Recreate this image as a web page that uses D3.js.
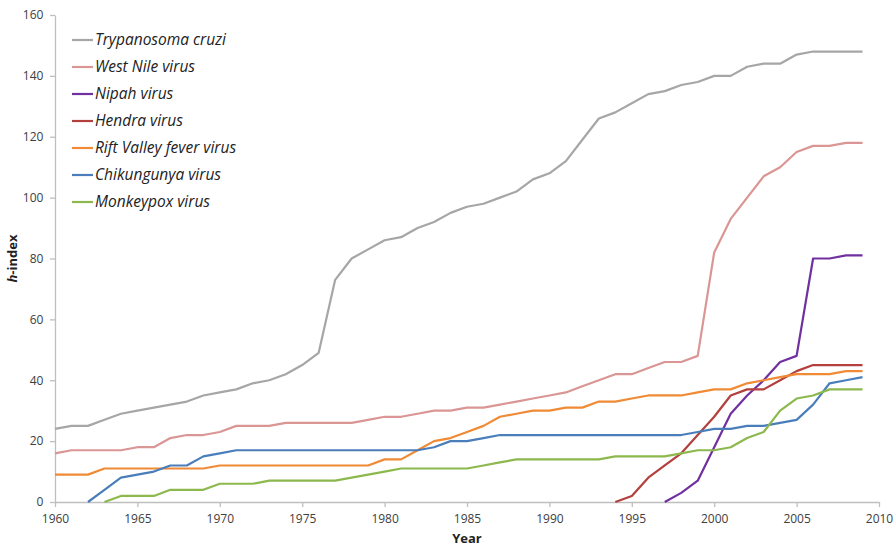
<!DOCTYPE html>
<html><head><meta charset="utf-8">
<script src="https://cdn.jsdelivr.net/npm/d3@7"></script>
<style>body{margin:0;background:#fff}svg{display:block}</style>
</head><body><svg id="c" width="894" height="550"></svg>
<script>
const years = d3.range(1960, 2010);
const seriesNames = ["Trypanosoma cruzi","West Nile virus","Nipah virus","Hendra virus","Rift Valley fever virus","Chikungunya virus","Monkeypox virus"];
const seriesColors = ["#a6a6a6","#d99694","#7030a0","#b3403c","#f08a35","#4a7ebb","#8cb84e"];
const trypanosoma = [24,25,25,27,29,30,31,32,33,35,36,37,39,40,42,45,49,73,80,83,86,87,90,92,95,97,98,100,102,106,108,112,119,126,128,131,134,135,137,138,140,140,143,144,144,147,148,148,148,148];
const westNile = [16,17,17,17,17,18,18,21,22,22,23,25,25,25,26,26,26,26,26,27,28,28,29,30,30,31,31,32,33,34,35,36,38,40,42,42,44,46,46,48,82,93,100,107,110,115,117,117,118,118];
const nipahStart = 1997;
const nipah = [0,3,7,18,29,35,40,46,48,80,80,81,81];
const hendraStart = 1994;
const hendra = [0,2,8,12,16,22,28,35,37,37,40,43,45,45,45,45];
const riftValley = [9,9,9,11,11,11,11,11,11,11,12,12,12,12,12,12,12,12,12,12,14,14,17,20,21,23,25,28,29,30,30,31,31,33,33,34,35,35,35,36,37,37,39,40,41,42,42,42,43,43];
const chikStart = 1962;
const chikungunya = [0,4,8,9,10,12,12,15,16,17,17,17,17,17,17,17,17,17,17,17,17,18,20,20,21,22,22,22,22,22,22,22,22,22,22,22,22,23,24,24,25,25,26,27,32,39,40,41];
const monkeyStart = 1963;
const monkeypox = [0,2,2,2,4,4,4,6,6,6,7,7,7,7,7,8,9,10,11,11,11,11,11,12,13,14,14,14,14,14,14,15,15,15,15,16,17,17,18,21,23,30,34,35,37,37,37];
const xTicks = d3.range(1960, 2011, 5);
const yTicks = d3.range(0, 161, 20);

const toPts = (arr, start) => arr.map((v,i)=>({x:start+i, y:v}));
const data = [
  toPts(trypanosoma,1960), toPts(westNile,1960), toPts(nipah,nipahStart),
  toPts(hendra,hendraStart), toPts(riftValley,1960), toPts(chikungunya,chikStart),
  toPts(monkeypox,monkeyStart)
];

const svg = d3.select("#c");
const m = {l:55, r:15, t:15, b:48};
const W = 894, H = 550;
const x = d3.scaleLinear().domain([1960,2010]).range([m.l, W-m.r]);
const y = d3.scaleLinear().domain([0,160]).range([H-m.b, m.t]);
const font = "'Open Sans', 'Liberation Sans', sans-serif";

const xa = svg.append("g").attr("transform",`translate(0,${y(0)})`)
  .call(d3.axisBottom(x).tickValues(xTicks).tickFormat(d3.format("d")).tickSize(5).tickSizeOuter(0));
const ya = svg.append("g").attr("transform",`translate(${m.l},0)`)
  .call(d3.axisLeft(y).tickValues(yTicks).tickSize(5).tickSizeOuter(0));
[xa,ya].forEach(a=>{
  a.selectAll("path,line").attr("stroke","#bfbfbf").attr("stroke-width",1.3);
  a.selectAll("text").attr("fill","#404040").style("font-family",font).style("font-size","12px");
});
xa.selectAll("text").attr("dy","1.1em");
ya.selectAll("text").attr("dx","-0.3em");

const line = d3.line().x(d=>x(d.x)).y(d=>y(d.y));
data.forEach((d,i)=>{
  svg.append("path").datum(d).attr("d",line).attr("fill","none")
    .attr("stroke",seriesColors[i]).attr("stroke-width",2.2).attr("stroke-linejoin","round");
});

// legend
const lg = svg.append("g");
seriesNames.forEach((n,i)=>{
  const yy = 40 + i*27;
  lg.append("line").attr("x1",72).attr("x2",93).attr("y1",yy).attr("y2",yy)
    .attr("stroke",seriesColors[i]).attr("stroke-width",2.2);
  lg.append("text").attr("x",95).attr("y",yy+5).text(n)
    .style("font-family",font).style("font-style","italic").style("font-size","15.5px").attr("fill","#222");
});

svg.append("text").attr("x",(x(1960)+x(2010))/2).attr("y",543).attr("text-anchor","middle")
  .style("font-family",font).style("font-weight","bold").style("font-size","13px").attr("fill","#222").text("Year");
const yt = svg.append("text").attr("transform",`translate(17,${(y(0)+y(160))/2}) rotate(-90)`).attr("text-anchor","middle")
  .style("font-family",font).style("font-weight","bold").style("font-size","13px").attr("fill","#222");
yt.append("tspan").style("font-style","italic").text("h");
yt.append("tspan").text("-index");
</script></body></html>
